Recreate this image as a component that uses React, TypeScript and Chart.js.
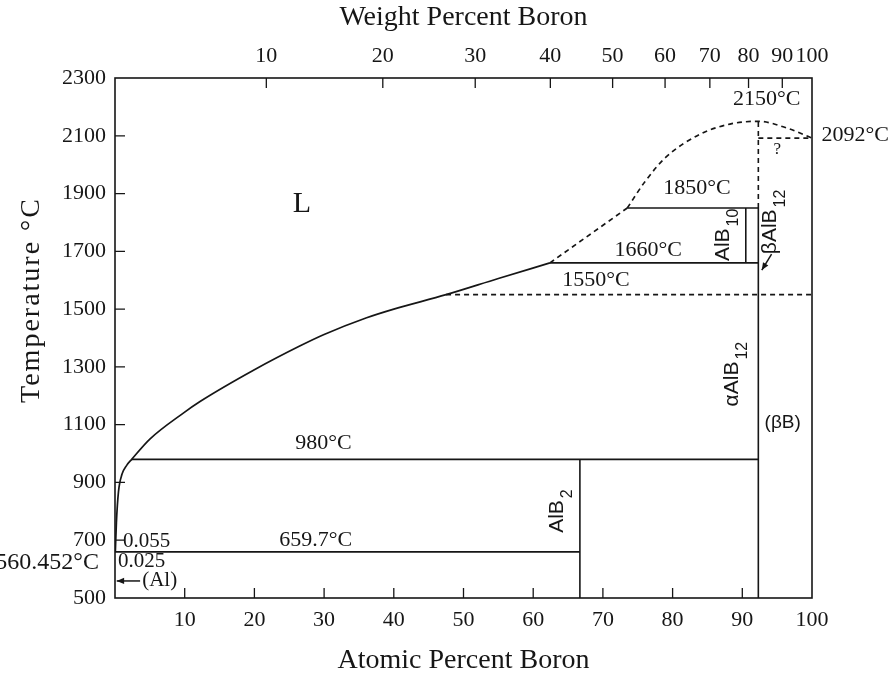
import React, { useEffect, useRef } from 'react';
import { Chart, registerables } from 'chart.js';

Chart.register(...registerables);

// ---------- axis tick values ----------
const ATOMIC_TICKS = [10, 20, 30, 40, 50, 60, 70, 80, 90, 100];
const WEIGHT_TICKS = [10, 20, 30, 40, 50, 60, 70, 80, 90, 100];
const TEMP_TICKS = [500, 700, 900, 1100, 1300, 1500, 1700, 1900, 2100, 2300];
const MASS_AL = 26.98;
const MASS_B = 10.81;
const weightToAtomic = (w: number) =>
  w >= 100 ? 100 : (100 * (w / MASS_B)) / (w / MASS_B + (100 - w) / MASS_AL);

// ---------- phase boundaries (atomic % B, °C) ----------
const liquidusX = [0.05, 0.2, 0.5, 1.0, 1.7, 2.4, 5, 9.8, 12.2, 20, 26.5, 30, 36.1, 40, 47.5, 55, 62.4];
const liquidusT = [660, 760, 868, 928, 960, 980, 1050, 1140, 1180, 1290, 1372, 1412, 1470, 1500, 1550, 1606, 1660];

// dashed liquidus: straight part, then curved part over the AlB12 maximum
const liquidusDashLowX = [62.4, 73.5];
const liquidusDashLowT = [1660, 1850];
const liquidusDashHighX = [73.5, 76, 79, 84, 88.5, 92.3, 96.5, 100];
const liquidusDashHighT = [1850, 1940, 2025, 2106, 2142, 2150, 2126, 2092];

// straight boundaries: [x1, t1, x2, t2]
const solidSegments: number[][] = [
  [0, 659.7, 66.7, 659.7],
  [66.7, 500, 66.7, 980],
  [2.4, 980, 92.3, 980],
  [92.3, 500, 92.3, 1850],
  [62.4, 1660, 92.3, 1660],
  [73.5, 1850, 92.3, 1850],
  [90.5, 1660, 90.5, 1850],
];
const dashedSegments: number[][] = [
  [47.5, 1550, 100, 1550],
  [92.3, 1850, 92.3, 2150],
  [92.3, 2092, 100, 2092],
];

// ---------- annotations (data coordinates) ----------
const centerLabels = [
  { text: 'L', x: 26.8, t: 1864, big: true },
  { text: '1850°C', x: 83.5, t: 1919 },
  { text: '1660°C', x: 76.5, t: 1705 },
  { text: '1550°C', x: 69.0, t: 1601 },
  { text: '2150°C', x: 93.5, t: 2226 },
  { text: '2092°C', x: 106.2, t: 2103 },
  { text: '980°C', x: 29.9, t: 1037 },
  { text: '659.7°C', x: 28.8, t: 701 },
];
const leftLabels = [
  { text: '0.055', x: 1.15, t: 695 },
  { text: '0.025', x: 0.43, t: 628 },
  { text: '(Al)', x: 3.9, t: 559 },
];
const rightLabels = [{ text: '560.452°C', x: -2.3, t: 621 }];
const chemLabels = [
  { main: 'AlB', sub: '2', x: 64.3, t: 801 },
  { main: 'AlB', sub: '10', x: 88.1, t: 1757 },
  { main: 'αAlB', sub: '12', x: 89.4, t: 1275 },
  { main: 'βAlB', sub: '12', x: 94.8, t: 1802 },
];
const smallLabels = [{ text: '?', x: 95.0, t: 2051 }];
const sansLabels = [{ text: '(βB)', x: 95.8, t: 1105 }];
const arrows = [
  { x1: 94.2, t1: 1690, x2: 92.8, t2: 1635 },
  { x1: 3.6, t1: 559, x2: 0.25, t2: 559 },
];

// ---------- styles ----------
const INK = '#161616';
const SERIF = "'Liberation Serif', 'Times New Roman', serif";
const SANS = "'Liberation Sans', Arial, sans-serif";

const pts = (xs: number[], ts: number[]) => xs.map((x, i) => ({ x, y: ts[i] }));

const segDataset = (s: number[], dashed: boolean) => ({
  data: [
    { x: s[0], y: s[1] },
    { x: s[2], y: s[3] },
  ],
  showLine: true,
  borderColor: INK,
  borderWidth: 1.6,
  borderDash: dashed ? [5, 4] : [],
  pointRadius: 0,
  tension: 0,
});

const phasePlugin = {
  id: 'phaseDecor',
  afterDraw(chart: any) {
    const { ctx, chartArea, scales } = chart;
    const xs = scales.x;
    const x2 = scales.x2;
    const ys = scales.y;
    const X = (v: number) => xs.getPixelForValue(v);
    const Y = (v: number) => ys.getPixelForValue(v);
    ctx.save();
    ctx.strokeStyle = INK;
    ctx.fillStyle = INK;

    // frame
    ctx.lineWidth = 1.6;
    ctx.setLineDash([]);
    ctx.strokeRect(chartArea.left, chartArea.top, chartArea.right - chartArea.left, chartArea.bottom - chartArea.top);

    // inward ticks
    const TL = 10;
    ctx.lineWidth = 1.3;
    ctx.beginPath();
    ATOMIC_TICKS.forEach((v) => {
      if (v <= 0 || v >= 100) return;
      const p = X(v);
      ctx.moveTo(p, chartArea.bottom);
      ctx.lineTo(p, chartArea.bottom - TL);
    });
    x2.ticks.forEach((tk: any) => {
      if (tk.value <= 0 || tk.value >= 100) return;
      const p = x2.getPixelForValue(tk.value);
      ctx.moveTo(p, chartArea.top);
      ctx.lineTo(p, chartArea.top + TL);
    });
    TEMP_TICKS.forEach((v) => {
      if (v <= 500 || v >= 2300) return;
      const p = Y(v);
      ctx.moveTo(chartArea.left, p);
      ctx.lineTo(chartArea.left + TL, p);
    });
    ctx.stroke();

    // y axis title
    ctx.save();
    ctx.translate(32, 300);
    ctx.rotate(-Math.PI / 2);
    ctx.font = `28px ${SERIF}`;
    try { (ctx as any).letterSpacing = '2px'; } catch (e) {}
    ctx.textAlign = 'center';
    ctx.textBaseline = 'middle';
    ctx.fillText('Temperature °C', 0, 0);
    try { (ctx as any).letterSpacing = '0px'; } catch (e) {}
    ctx.restore();

    // centered labels
    ctx.textBaseline = 'middle';
    centerLabels.forEach((l) => {
      ctx.font = l.big ? `30px ${SERIF}` : `22px ${SERIF}`;
      ctx.textAlign = 'center';
      ctx.fillText(l.text, X(l.x), Y(l.t));
    });
    smallLabels.forEach((l) => {
      ctx.font = `17px ${SERIF}`;
      ctx.textAlign = 'center';
      ctx.fillText(l.text, X(l.x), Y(l.t));
    });
    leftLabels.forEach((l) => {
      ctx.font = `21px ${SERIF}`;
      ctx.textAlign = 'left';
      ctx.fillText(l.text, X(l.x), Y(l.t));
    });
    rightLabels.forEach((l) => {
      ctx.font = `24px ${SERIF}`;
      ctx.textAlign = 'right';
      ctx.fillText(l.text, X(l.x), Y(l.t));
    });
    sansLabels.forEach((l) => {
      ctx.font = `19px ${SANS}`;
      ctx.textAlign = 'center';
      ctx.fillText(l.text, X(l.x), Y(l.t));
    });

    // rotated compound labels with subscripts
    chemLabels.forEach((l) => {
      ctx.save();
      ctx.translate(X(l.x), Y(l.t));
      ctx.rotate(-Math.PI / 2);
      ctx.textAlign = 'left';
      ctx.textBaseline = 'alphabetic';
      ctx.font = `21px ${SANS}`;
      const wm = ctx.measureText(l.main).width;
      ctx.font = `16px ${SANS}`;
      const ws = ctx.measureText(l.sub).width;
      const start = -(wm + ws + 2) / 2;
      ctx.font = `21px ${SANS}`;
      ctx.fillText(l.main, start, 0);
      ctx.font = `16px ${SANS}`;
      ctx.fillText(l.sub, start + wm + 2, 9);
      ctx.restore();
    });

    // arrows
    arrows.forEach((a) => {
      const ax1 = X(a.x1), ay1 = Y(a.t1);
      const ax2 = X(a.x2), ay2 = Y(a.t2);
      ctx.lineWidth = 1.5;
      ctx.beginPath();
      ctx.moveTo(ax1, ay1);
      ctx.lineTo(ax2, ay2);
      ctx.stroke();
      const ang = Math.atan2(ay2 - ay1, ax2 - ax1);
      const hl = 8;
      ctx.beginPath();
      ctx.moveTo(ax2, ay2);
      ctx.lineTo(ax2 - hl * Math.cos(ang - 0.4), ay2 - hl * Math.sin(ang - 0.4));
      ctx.lineTo(ax2 - hl * Math.cos(ang + 0.4), ay2 - hl * Math.sin(ang + 0.4));
      ctx.closePath();
      ctx.fill();
    });

    ctx.restore();
  },
};

export default function App() {
  const ref = useRef<HTMLCanvasElement>(null);
  useEffect(() => {
    const canvas = ref.current;
    if (!canvas) return;
    Chart.defaults.font.family = SERIF;
    Chart.defaults.color = INK;

    const curve = (xs: number[], ts: number[], dashed: boolean, mono: boolean) => ({
      data: pts(xs, ts),
      showLine: true,
      borderColor: INK,
      borderWidth: 1.7,
      borderDash: dashed ? [5, 4] : [],
      pointRadius: 0,
      tension: 0,
      cubicInterpolationMode: mono ? 'monotone' : 'default',
    });

    const datasets: any[] = [
      curve(liquidusX, liquidusT, false, true),
      curve(liquidusDashLowX, liquidusDashLowT, true, false),
      curve(liquidusDashHighX, liquidusDashHighT, true, true),
      ...solidSegments.map((s) => segDataset(s, false)),
      ...dashedSegments.map((s) => segDataset(s, true)),
    ];

    const tickFont = { family: SERIF, size: 22 };
    const noPad = (scale: any) => {
      scale.paddingLeft = 0;
      scale.paddingRight = 0;
      scale.paddingTop = 0;
      scale.paddingBottom = 0;
    };

    const chart = new Chart(canvas, {
      type: 'scatter',
      data: { datasets },
      plugins: [phasePlugin],
      options: {
        animation: false,
        responsive: false,
        maintainAspectRatio: false,
        layout: { padding: { left: 0, right: 76, top: 0, bottom: 0 }, autoPadding: false },
        plugins: { legend: { display: false }, tooltip: { enabled: false } },
        events: [],
        scales: {
          x: {
            type: 'linear',
            position: 'bottom',
            min: 0,
            max: 100,
            border: { display: false },
            grid: { display: false, drawTicks: false },
            afterBuildTicks: (scale: any) => {
              scale.ticks = ATOMIC_TICKS.map((v) => ({ value: v }));
            },
            ticks: {
              font: tickFont,
              color: INK,
              padding: 9,
              autoSkip: false,
              maxRotation: 0,
              callback: (v: any) => String(v),
            },
            title: {
              display: true,
              text: 'Atomic Percent Boron',
              font: { family: SERIF, size: 28 },
              color: INK,
              padding: { top: 0, bottom: 0 },
            },
            afterFit: (scale: any) => {
              scale.height = 79;
              noPad(scale);
            },
          },
          x2: {
            type: 'linear',
            position: 'top',
            min: 0,
            max: 100,
            border: { display: false },
            grid: { display: false, drawTicks: false },
            afterBuildTicks: (scale: any) => {
              scale.ticks = WEIGHT_TICKS.map((w) => ({ value: weightToAtomic(w) }));
            },
            ticks: {
              font: tickFont,
              color: INK,
              padding: 9,
              autoSkip: false,
              maxRotation: 0,
              callback: (_v: any, i: number) => String(WEIGHT_TICKS[i]),
            },
            title: {
              display: true,
              text: 'Weight Percent Boron',
              font: { family: SERIF, size: 28 },
              color: INK,
              padding: { top: 1, bottom: 0 },
            },
            afterFit: (scale: any) => {
              scale.height = 78;
              noPad(scale);
            },
          },
          y: {
            type: 'linear',
            position: 'left',
            min: 500,
            max: 2300,
            border: { display: false },
            grid: { display: false, drawTicks: false },
            afterBuildTicks: (scale: any) => {
              scale.ticks = TEMP_TICKS.map((v) => ({ value: v }));
            },
            ticks: {
              font: tickFont,
              color: INK,
              padding: 9,
              autoSkip: false,
              callback: (v: any) => String(v),
            },
            afterFit: (scale: any) => {
              scale.width = 115;
              noPad(scale);
            },
          },
        },
      } as any,
    });
    return () => chart.destroy();
  }, []);

  return (
    <div style={{ position: 'fixed', left: 0, top: 0, width: 888, height: 677, background: '#fff' }}>
      <canvas ref={ref} width={888} height={677} style={{ display: 'block', width: 888, height: 677 }} />
    </div>
  );
}
